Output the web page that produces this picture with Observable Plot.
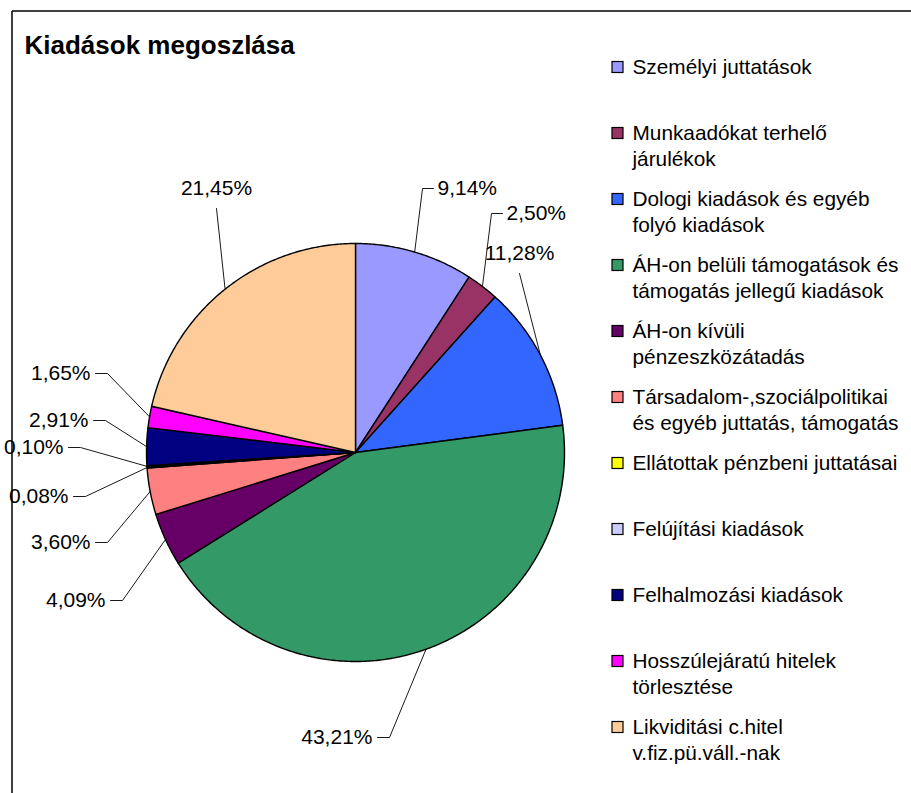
<!DOCTYPE html>
<html>
<head>
<meta charset="utf-8">
<script src="https://cdn.jsdelivr.net/npm/d3@7"></script>
<script src="https://cdn.jsdelivr.net/npm/@observablehq/plot@0.6"></script>
<style>
  html, body { margin: 0; padding: 0; background: #fff; }
  #chart { width: 911px; height: 793px; overflow: hidden; }
</style>
</head>
<body>
<div id="chart"></div>
<script>
// ---------- data ----------
const title = "Kiadások megoszlása";
const legendText = [
  "Személyi juttatások",
  "Munkaadókat terhelő\njárulékok",
  "Dologi kiadások és egyéb\nfolyó kiadások",
  "ÁH-on belüli támogatások és\ntámogatás jellegű kiadások",
  "ÁH-on kívüli\npénzeszközátadás",
  "Társadalom-,szociálpolitikai\nés egyéb juttatás, támogatás",
  "Ellátottak pénzbeni juttatásai",
  "Felújítási kiadások",
  "Felhalmozási kiadások",
  "Hosszúlejáratú hitelek\ntörlesztése",
  "Likviditási c.hitel\nv.fiz.pü.váll.-nak"
];
const categories = legendText.map(s => s.replace("\n", " "));
const values = [9.14, 2.50, 11.28, 43.21, 4.09, 3.60, 0.08, 0.10, 2.91, 1.65, 21.45];
const valueLabels = ["9,14%", "2,50%", "11,28%", "43,21%", "4,09%", "3,60%", "0,08%", "0,10%", "2,91%", "1,65%", "21,45%"];
const colors = ["#9999FF", "#993366", "#3366FF", "#339966", "#660066", "#FF8080", "#FFFF00", "#CCCCFF", "#000080", "#FF00FF", "#FFCC99"];

// ---------- layout ----------
const W = 911, H = 793;
const FONT = "'Liberation Sans', Arial, sans-serif";
const pieGeom = {cx: 355, cy: 452, r: 209};
const frame = {x: 11.5, y: 10.5};
// data-label text anchors (layout, chosen to match the original placement)
const labelLayout = [
  {x: 437, y: 188, side: "start"},
  {x: 506, y: 213, side: "start"},
  {x: 519, y: 253, side: "middle"},
  {x: 372, y: 737, side: "end"},
  {x: 105, y: 600, side: "end"},
  {x: 90,  y: 542, side: "end"},
  {x: 68,  y: 496, side: "end"},
  {x: 63,  y: 447, side: "end"},
  {x: 88,  y: 420, side: "end"},
  {x: 90,  y: 373, side: "end"},
  {x: 216, y: 188, side: "middle"}
];
const legendLayout = {boxX: 612, box: 11, textX: 632, y0: 67, step: 66, lineStep: 25.5};

// ---------- geometry from data ----------
const arcs = d3.pie().sort(null).value(d => d)(values);
const pt = (a, rr = pieGeom.r) => ({x: pieGeom.cx + rr * Math.sin(a), y: pieGeom.cy - rr * Math.cos(a)});

const slicePts = [];
arcs.forEach((a, i) => {
  const cat = categories[i];
  slicePts.push({cat, ...pt(0, 0)});
  const n = Math.max(1, Math.ceil((a.endAngle - a.startAngle) / (Math.PI / 360)));
  for (let k = 0; k <= n; k++) {
    const ang = a.startAngle + (a.endAngle - a.startAngle) * k / n;
    slicePts.push({cat, ...pt(ang)});
  }
});

const labelData = arcs.map((a, i) => ({cat: categories[i], text: valueLabels[i], ...labelLayout[i]}));
const leaderPts = [];
arcs.forEach((a, i) => {
  const L = labelLayout[i];
  const cat = categories[i];
  const p = pt((a.startAngle + a.endAngle) / 2);
  leaderPts.push({cat, ...p});
  if (L.side === "end") {
    leaderPts.push({cat, x: L.x + 17, y: L.y});
    leaderPts.push({cat, x: L.x + 5, y: L.y});
  } else if (L.side === "start") {
    leaderPts.push({cat, x: L.x - 15, y: L.y});
    leaderPts.push({cat, x: L.x - 4, y: L.y});
  } else {
    leaderPts.push({cat, x: L.x, y: L.y + 20});
  }
});

const legendBoxes = categories.map((cat, i) => {
  const yc = legendLayout.y0 + legendLayout.step * i;
  return {cat, x1: legendLayout.boxX, x2: legendLayout.boxX + legendLayout.box,
          y1: yc - legendLayout.box / 2, y2: yc + legendLayout.box / 2};
});
const legendLines = legendText.flatMap((s, i) => s.split("\n").map((line, j) => ({
  line, x: legendLayout.textX, y: legendLayout.y0 + legendLayout.step * i + legendLayout.lineStep * j
})));

const frameLines = [
  {x1: frame.x, y1: frame.y, x2: frame.x, y2: H + 5},
  {x1: frame.x, y1: frame.y, x2: W + 5, y2: frame.y}
];

const chart = Plot.plot({
  width: W, height: H, margin: 0,
  x: {type: "linear", domain: [0, W], range: [0, W], axis: null},
  y: {type: "linear", domain: [0, H], range: [0, H], axis: null},
  color: {domain: categories, range: colors},
  style: {fontFamily: FONT, background: "#fff", color: "#000", overflow: "hidden"},
  marks: [
    Plot.link(frameLines, {x1: "x1", y1: "y1", x2: "x2", y2: "y2", stroke: "#000", strokeWidth: 1.5}),
    Plot.line(slicePts, {x: "x", y: "y", z: "cat", fill: "cat", stroke: "#000", strokeWidth: 1.4, curve: "linear-closed"}),
    Plot.line(leaderPts, {x: "x", y: "y", z: "cat", stroke: "#000", strokeWidth: 0.9}),
    Plot.text(labelData, {filter: d => d.side === "start", x: "x", y: "y", text: "text", textAnchor: "start", fontSize: 21, fill: "#000"}),
    Plot.text(labelData, {filter: d => d.side === "end", x: "x", y: "y", text: "text", textAnchor: "end", fontSize: 21, fill: "#000"}),
    Plot.text(labelData, {filter: d => d.side === "middle", x: "x", y: "y", text: "text", textAnchor: "middle", fontSize: 21, fill: "#000"}),
    Plot.rect(legendBoxes, {x1: "x1", x2: "x2", y1: "y1", y2: "y2", fill: "cat", stroke: "#000", strokeWidth: 1.2}),
    Plot.text(legendLines, {x: "x", y: "y", text: "line", textAnchor: "start", fontSize: 20.8, fill: "#000"}),
    Plot.text([title], {x: () => 24, y: () => 45, text: d => d, textAnchor: "start", fontSize: 26, fontWeight: "bold", fill: "#000"})
  ]
});
document.getElementById("chart").appendChild(chart);
</script>
</body>
</html>
